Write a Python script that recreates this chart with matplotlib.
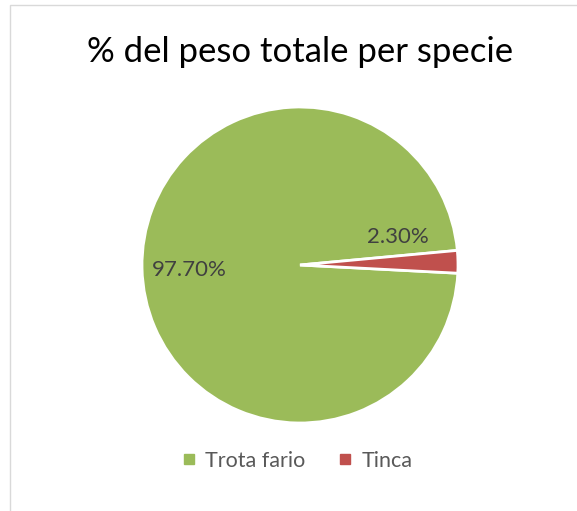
import matplotlib.pyplot as plt
from matplotlib.patches import Rectangle
from matplotlib.lines import Line2D

# data
species = ['Trota fario', 'Tinca']
weight_pct = [97.70, 2.30]
colors = ['#9BBB59', '#C0504D']

plt.rcParams['font.family'] = ['Lato', 'DejaVu Sans']

fig = plt.figure(figsize=(5.77, 5.11), dpi=100)

# chart border (light gray, runs off right/bottom like the source)
fig.patches.append(Rectangle((10 / 577, -0.1), 1.2, 1 - 5 / 511 + 0.1,
                             transform=fig.transFigure, fill=False,
                             edgecolor='#D9D9D9', linewidth=1.0))

fig.text(300 / 577, 1 - 52 / 511, '% del peso totale per specie',
         ha='center', va='center', fontsize=25, color='black')

# pie axes: centre (300, 265), radius 158 px
r = 158
ax = fig.add_axes([(300 - r) / 577, (511 - 265 - r) / 511, 2 * r / 577, 2 * r / 511])
wedges, texts, autotexts = ax.pie(
    weight_pct, colors=colors, startangle=5.3, counterclock=True,
    autopct='%.2f%%', pctdistance=0.70,
    wedgeprops=dict(edgecolor='white', linewidth=2.0),
    textprops=dict(color='#404040', fontsize=16))
ax.set_xlim(-1, 1)
ax.set_ylim(-1, 1)
ax.set_aspect('equal')
ax.axis('off')

# Excel placed the small label above its slice
autotexts[1].set_position((0.62, 0.18))
autotexts[0].set_position((-0.70, -0.03))

handles = [Line2D([], [], marker='s', linestyle='none', markersize=7,
                  markerfacecolor=c, markeredgecolor=c) for c in colors]
fig.legend(handles, species, loc='center', bbox_to_anchor=(296 / 577, 1 - 461 / 511),
           ncol=2, frameon=False, fontsize=15.5, handletextpad=0.3,
           columnspacing=1.4, labelcolor='#595959', handlelength=0.9)

fig.savefig('out.png', dpi=100)
